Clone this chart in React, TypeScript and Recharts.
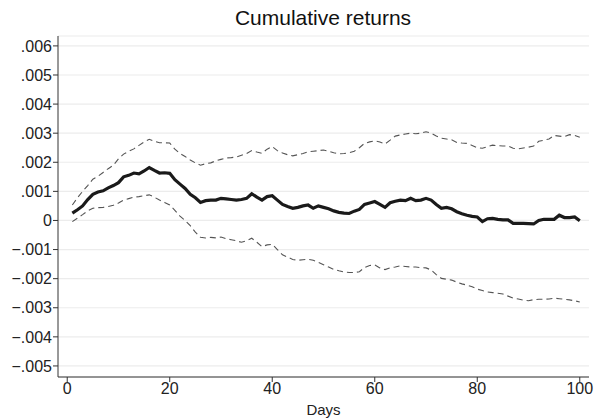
import { LineChart, Line, XAxis, YAxis, CartesianGrid } from "recharts";

const days = Array.from({ length: 100 }, (_, i) => i + 1);

const meanReturns = [
  0.00025, 0.00037, 0.0005, 0.00072, 0.0009, 0.00098, 0.00102, 0.00112, 0.0012, 0.0013,
  0.0015, 0.00155, 0.00163, 0.0016, 0.0017, 0.00182, 0.00172, 0.00163, 0.00164, 0.00162,
  0.0014, 0.00125, 0.0011, 0.0009, 0.00078, 0.00062, 0.00068, 0.0007, 0.0007, 0.00076,
  0.00074, 0.00072, 0.0007, 0.00072, 0.00076, 0.00092, 0.0008, 0.0007, 0.00082, 0.00085,
  0.0007, 0.00055, 0.00048, 0.00042, 0.00045, 0.0005, 0.00053, 0.00042, 0.0005, 0.00045,
  0.0004, 0.00033, 0.00028, 0.00025, 0.00024, 0.00032, 0.00038, 0.00055, 0.0006, 0.00065,
  0.00055, 0.00045, 0.00061, 0.00066, 0.0007, 0.00068, 0.00076, 0.00068, 0.0007, 0.00076,
  0.0007, 0.00055, 0.00042, 0.00045, 0.0004, 0.0003, 0.00023, 0.00018, 0.00014, 0.00012,
  -0.00004, 0.00006, 0.00007, 0.00004, 0.00002, 0.00002, -0.0001, -0.0001, -0.0001, -0.00011,
  -0.00012, 0.0, 0.00004, 0.00004, 0.00004, 0.00018, 0.0001, 0.0001, 0.00012, -0.00001,
];

const upperBand = [
  0.00053, 0.00078, 0.001, 0.0012, 0.00142, 0.00152, 0.00165, 0.00178, 0.0019, 0.00212,
  0.00228, 0.00238, 0.00246, 0.00258, 0.0027, 0.00279, 0.00272, 0.00267, 0.00267, 0.00266,
  0.00245, 0.0023, 0.0022, 0.00208, 0.00198, 0.0019, 0.00195, 0.00198, 0.00205, 0.0021,
  0.00215, 0.00216, 0.00218, 0.00224, 0.0023, 0.0024, 0.00235, 0.00231, 0.00245, 0.00254,
  0.0024, 0.00232, 0.00226, 0.00222, 0.00226, 0.0023, 0.00236, 0.00238, 0.0024, 0.00242,
  0.00238, 0.00233, 0.00229, 0.0023, 0.00233, 0.00238, 0.0025, 0.00265, 0.0027, 0.00274,
  0.0027, 0.00263, 0.00276, 0.0029, 0.00294, 0.00297, 0.003, 0.00298, 0.003, 0.00305,
  0.003, 0.0029, 0.00283, 0.0028, 0.00277, 0.00268, 0.00266, 0.00265, 0.00258, 0.0025,
  0.00248, 0.00254, 0.00259, 0.00257, 0.00256, 0.00256, 0.00248, 0.00246, 0.00249, 0.00252,
  0.00256, 0.00272, 0.00276, 0.0028, 0.00292, 0.0029, 0.00288, 0.00295, 0.00292, 0.00286,
];

const lowerBand = [
  -0.00004, 0.00008, 0.0002, 0.00033, 0.00042, 0.00044, 0.00045, 0.00048, 0.00052, 0.0006,
  0.0007, 0.00075, 0.0008, 0.00082, 0.00085, 0.00088, 0.0008, 0.0007, 0.00062, 0.00053,
  0.00035, 0.00015, 0.0, -0.00018, -0.0004, -0.00058, -0.0006, -0.00058, -0.0006, -0.00057,
  -0.00063, -0.00066, -0.0007, -0.00075, -0.0007, -0.00061, -0.00075, -0.0009, -0.00084, -0.00082,
  -0.001, -0.00118, -0.00126, -0.00134, -0.00137, -0.00135, -0.00133, -0.00137, -0.00144, -0.00152,
  -0.0016, -0.00168, -0.00173, -0.00177, -0.00179, -0.00179, -0.00176, -0.00162, -0.00155, -0.00153,
  -0.00163, -0.00169, -0.00163, -0.0016, -0.00156, -0.00158, -0.0016, -0.0016, -0.00162, -0.00163,
  -0.0017, -0.00186, -0.00199, -0.00202, -0.00205, -0.00212, -0.00218, -0.00222, -0.00228, -0.00236,
  -0.00241, -0.00246, -0.00248, -0.0025, -0.00253, -0.0026, -0.00267, -0.0027, -0.00274, -0.00276,
  -0.00272, -0.00271, -0.00271, -0.0027, -0.00267, -0.00269, -0.00271, -0.00273, -0.00276, -0.0028,
];

const xTicks = [0, 20, 40, 60, 80, 100];
const yTicks = [
  -0.005, -0.004, -0.003, -0.002, -0.001, 0, 0.001, 0.002, 0.003, 0.004, 0.005, 0.006,
];

const data = days.map((day, i) => ({
  day,
  mean: meanReturns[i],
  upper: upperBand[i],
  lower: lowerBand[i],
}));

const FONT = "'Liberation Sans', Arial, sans-serif";

function formatY(v: number) {
  if (Math.abs(v) < 1e-9) return "0";
  const s = Math.abs(v).toFixed(3).replace(/^0/, "");
  return v < 0 ? "\u2212" + s : s;
}

export default function App() {
  return (
    <div style={{ position: "absolute", left: 0, top: 0, width: 594, height: 419, background: "#fff", fontFamily: FONT }}>
      <div
        style={{
          position: "absolute",
          left: 57,
          width: 532,
          top: 6,
          textAlign: "center",
          fontSize: 21,
          lineHeight: "24px",
          color: "#111",
        }}
      >
        Cumulative returns
      </div>
      <LineChart width={594} height={419} data={data} margin={{ top: 36, right: 5, left: 0, bottom: 0 }}>
        <CartesianGrid horizontal vertical={false} stroke="#ececec" strokeWidth={1.2} />
        <XAxis
          dataKey="day"
          type="number"
          domain={[-1.8, 101.8]}
          ticks={xTicks}
          height={42}
          tickSize={5}
          tickMargin={1}
          stroke="#333"
          tick={{ fill: "#222", fontSize: 16, fontFamily: FONT }}
          label={{ value: "Days", position: "insideBottom", offset: 4, fill: "#222", fontSize: 15, fontFamily: FONT }}
        />
        <YAxis
          type="number"
          domain={[-0.00538, 0.00634]}
          ticks={yTicks}
          width={58}
          tickSize={5}
          tickMargin={1}
          stroke="#333"
          allowDataOverflow
          tickFormatter={formatY}
          tick={{ fill: "#222", fontSize: 16, fontFamily: FONT }}
        />
        <Line
          dataKey="upper"
          stroke="#555"
          strokeWidth={1.1}
          strokeDasharray="6 4"
          dot={false}
          isAnimationActive={false}
        />
        <Line
          dataKey="lower"
          stroke="#555"
          strokeWidth={1.1}
          strokeDasharray="6 4"
          dot={false}
          isAnimationActive={false}
        />
        <Line dataKey="mean" stroke="#1a1a1a" strokeWidth={3.2} dot={false} isAnimationActive={false} />
      </LineChart>
    </div>
  );
}
